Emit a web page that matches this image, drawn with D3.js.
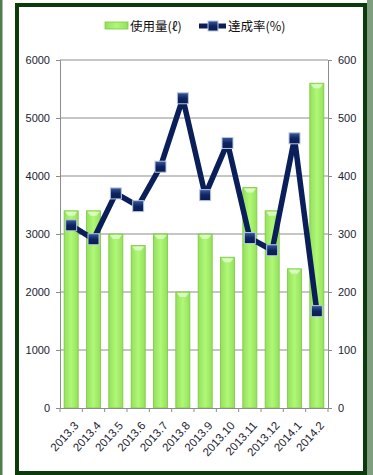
<!DOCTYPE html>
<html><head><meta charset="utf-8">
<script src="https://cdn.jsdelivr.net/npm/d3@7/dist/d3.min.js"></script>
<style>html,body{margin:0;padding:0;background:#fff;}svg{display:block;}</style>
</head><body>
<svg id="c" width="373" height="475"></svg>
<script>
const categories = ["2013.3","2013.4","2013.5","2013.6","2013.7","2013.8","2013.9","2013.10","2013.11","2013.12","2014.1","2014.2"];
const usage = [3400,3400,3000,2800,3000,2000,3000,2600,3800,3400,2400,5600];
const rate = [315,291,370,348,416,534,367,457,293,272,465,167];
const leftTicks = [0,1000,2000,3000,4000,5000,6000];
const rightTicks = [0,100,200,300,400,500,600];
const seriesNames = ["使用量(ℓ)","達成率(%)"];

const svg = d3.select("#c");
const W = 373, H = 475;
const m = {l:60, r:328, t:60, b:408};

// outer decorations
svg.append("rect").attr("x",0).attr("y",0).attr("width",2.5).attr("height",H).attr("fill","#4f7d4f");
svg.append("rect").attr("x",367).attr("y",0).attr("width",6).attr("height",H).attr("fill","#7f9e7f");
svg.append("rect").attr("x",17).attr("y",5).attr("width",348).attr("height",468)
  .attr("fill","#fff").attr("stroke","#0b3a0b").attr("stroke-width",4);

const defs = svg.append("defs");
const g1 = defs.append("linearGradient").attr("id","barG").attr("x1","0").attr("x2","1").attr("y1","0").attr("y2","0");
g1.append("stop").attr("offset","0").attr("stop-color","#94e05a");
g1.append("stop").attr("offset","0.5").attr("stop-color","#b0f878");
g1.append("stop").attr("offset","1").attr("stop-color","#94e05a");
const g2 = defs.append("linearGradient").attr("id","mkG").attr("x1","0").attr("x2","0").attr("y1","0").attr("y2","1");
g2.append("stop").attr("offset","0").attr("stop-color","#3a5a9a");
g2.append("stop").attr("offset","0.5").attr("stop-color","#0d2463");
g2.append("stop").attr("offset","1").attr("stop-color","#0a1c50");

const x = d3.scaleBand().domain(categories).range([m.l, m.r]).paddingInner(0.37).paddingOuter(0.185);
const xb = d3.scaleBand().domain(categories).range([m.l, m.r]);
const yL = d3.scaleLinear().domain([0,6000]).range([m.b, m.t]);
const yR = d3.scaleLinear().domain([0,600]).range([m.b, m.t]);

// gridlines
svg.append("g").selectAll("line").data(leftTicks.slice(1)).join("line")
  .attr("x1",m.l).attr("x2",m.r).attr("y1",d=>yL(d)).attr("y2",d=>yL(d))
  .attr("stroke","#8c8c8c").attr("stroke-width",1);

// bars
const bars = svg.append("g").selectAll("g").data(categories).join("g");
bars.append("rect")
  .attr("x",d=>x(d)).attr("y",(d,i)=>yL(usage[i]))
  .attr("width",x.bandwidth()).attr("height",(d,i)=>m.b - yL(usage[i]))
  .attr("fill","url(#barG)").attr("stroke","#7cc846").attr("stroke-width",0.8);
bars.append("path")
  .attr("d",(d,i)=>{const x0=x(d), w=x.bandwidth(), y0=yL(usage[i]);
    return `M${x0+1},${y0+1}L${x0+w-1},${y0+1}L${x0+w-4},${y0+5}L${x0+4},${y0+5}Z`;})
  .attr("fill","#e4ffd0").attr("opacity",0.8);

// axes
const fontNum = "'Liberation Sans', Arial, sans-serif";
const axL = svg.append("g").attr("transform",`translate(${m.l},0)`)
  .call(d3.axisLeft(yL).tickValues(leftTicks).tickSize(4).tickPadding(6).tickFormat(d3.format("d")));
const axR = svg.append("g").attr("transform",`translate(${m.r},0)`)
  .call(d3.axisRight(yR).tickValues(rightTicks).tickSize(4).tickPadding(6).tickFormat(d3.format("d")));
const axB = svg.append("g").attr("transform",`translate(0,${m.b})`)
  .call(d3.axisBottom(xb).tickSize(0).tickFormat(""));
[axL,axR,axB].forEach(a=>{
  a.select(".domain").attr("stroke","#8c8c8c");
  a.selectAll(".tick line").attr("stroke","#8c8c8c");
  a.selectAll("text").attr("font-family",fontNum).attr("font-size","11px").attr("fill","#1c2230");
});
// bottom ticks at category boundaries
svg.append("g").selectAll("line").data(categories.concat(["end"])).join("line")
  .attr("x1",(d,i)=>i<categories.length?xb(d):m.r).attr("x2",(d,i)=>i<categories.length?xb(d):m.r)
  .attr("y1",m.b).attr("y2",m.b+4).attr("stroke","#8c8c8c");
// rotated labels
svg.append("g").selectAll("text").data(categories).join("text")
  .attr("transform",d=>`translate(${x(d)+x.bandwidth()/2+8},${m.b+18}) rotate(-48)`)
  .attr("text-anchor","end").attr("font-family",fontNum).attr("font-size","11.5px").attr("fill","#1c2230")
  .text(d=>d);

// line
const pts = categories.map((c,i)=>[x(c)+x.bandwidth()/2, yR(rate[i])]);
svg.append("path").attr("d",d3.line()(pts)).attr("fill","none")
  .attr("stroke","#0a1f5a").attr("stroke-width",5.5).attr("stroke-linejoin","round");
svg.append("g").selectAll("rect").data(pts).join("rect")
  .attr("x",d=>d[0]-5.5).attr("y",d=>d[1]-5.5).attr("width",11).attr("height",11)
  .attr("fill","url(#mkG)").attr("stroke","#b8c8e0").attr("stroke-width",1);

// legend
const lg = svg.append("g");
lg.append("rect").attr("x",105).attr("y",22).attr("width",23).attr("height",7)
  .attr("fill","url(#barG)").attr("stroke","#7cc846").attr("stroke-width",0.8);
lg.append("text").attr("x",130).attr("y",31).attr("font-family","'Noto Sans CJK JP', sans-serif")
  .attr("font-size","12.5px").attr("fill","#111").text(seriesNames[0]);
lg.append("line").attr("x1",199).attr("x2",226).attr("y1",26).attr("y2",26)
  .attr("stroke","#0a1f5a").attr("stroke-width",5);
lg.append("rect").attr("x",208).attr("y",21).attr("width",10).attr("height",10)
  .attr("fill","url(#mkG)").attr("stroke","#b8c8e0").attr("stroke-width",1);
lg.append("text").attr("x",228).attr("y",31).attr("font-family","'Noto Sans CJK JP', sans-serif")
  .attr("font-size","12.5px").attr("fill","#111").text(seriesNames[1]);
</script>
</body></html>
